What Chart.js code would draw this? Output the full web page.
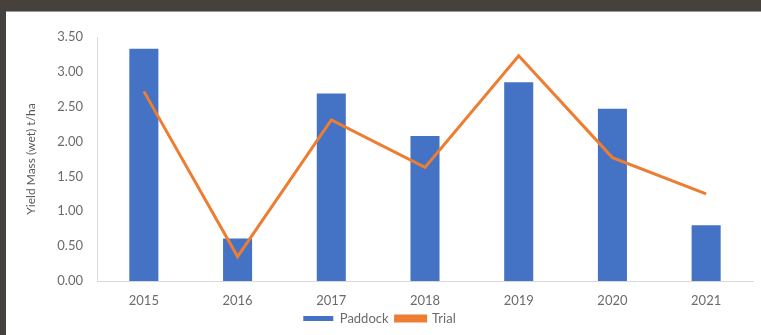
<!DOCTYPE html>
<html>
<head>
<meta charset="utf-8">
<script src="https://cdn.jsdelivr.net/npm/chart.js@4.4.1/dist/chart.umd.min.js"></script>
<style>
  html, body { margin: 0; padding: 0; }
  body { width: 761px; height: 335px; background: #46413d; position: relative; overflow: hidden; }
  #frame { position: absolute; left: 6px; top: 11px; width: 755px; height: 324px; background: #ffffff; border-top: 1px solid #9a9894; }
  canvas { display: block; }
</style>
</head>
<body>
<div id="frame"><canvas id="yieldChart" width="755" height="323"></canvas></div>
<script>
const years = ['2015', '2016', '2017', '2018', '2019', '2020', '2021'];
const paddock = [3.33, 0.61, 2.69, 2.08, 2.85, 2.47, 0.80];
const trial = [2.72, 0.35, 2.31, 1.63, 3.23, 1.77, 1.25];
const yTicks = [0, 0.5, 1, 1.5, 2, 2.5, 3, 3.5];

const font = 'Lato, "Open Sans", sans-serif';
const grey = '#6b6b6b';

const ctx = document.getElementById('yieldChart').getContext('2d');
new Chart(ctx, {
  data: {
    labels: years,
    datasets: [
      {
        type: 'line',
        label: 'Trial',
        data: trial,
        borderColor: '#ed7d31',
        backgroundColor: '#ed7d31',
        borderWidth: 3,
        pointRadius: 0,
        tension: 0,
        order: 1
      },
      {
        type: 'bar',
        label: 'Paddock',
        data: paddock,
        backgroundColor: '#4472c4',
        categoryPercentage: 0.62,
        barPercentage: 0.5,
        order: 2
      }
    ]
  },
  options: {
    responsive: false,
    animation: false,
    layout: { padding: { top: 25, right: 8, left: 0, bottom: 0 } },
    scales: {
      x: {
        grid: { display: false },
        border: { color: '#d9d9d9', width: 1 },
        ticks: { color: grey, font: { family: font, size: 13 }, padding: 4 },
        afterFit: s => { s.height = 24; }
      },
      y: {
        min: 0,
        max: 3.5,
        afterBuildTicks: s => { s.ticks = yTicks.map(v => ({ value: v })); },
        grid: { display: false },
        border: { color: '#d9d9d9', width: 1 },
        ticks: {
          color: grey,
          font: { family: font, size: 13 },
          padding: 6,
          callback: v => v.toFixed(2)
        },
        title: {
          display: true,
          text: 'Yield Mass (wet) t/ha',
          color: '#595959',
          font: { family: font, size: 12 },
          padding: { top: 18, bottom: 0 }
        },
        afterFit: s => { s.width = 91; }
      }
    },
    plugins: {
      legend: {
        position: 'bottom',
        reverse: true,
        labels: {
          color: grey,
          font: { family: font, size: 13 },
          boxWidth: 30,
          boxHeight: 5,
          padding: 7
        }
      },
      tooltip: { enabled: false }
    }
  }
});
</script>
</body>
</html>
